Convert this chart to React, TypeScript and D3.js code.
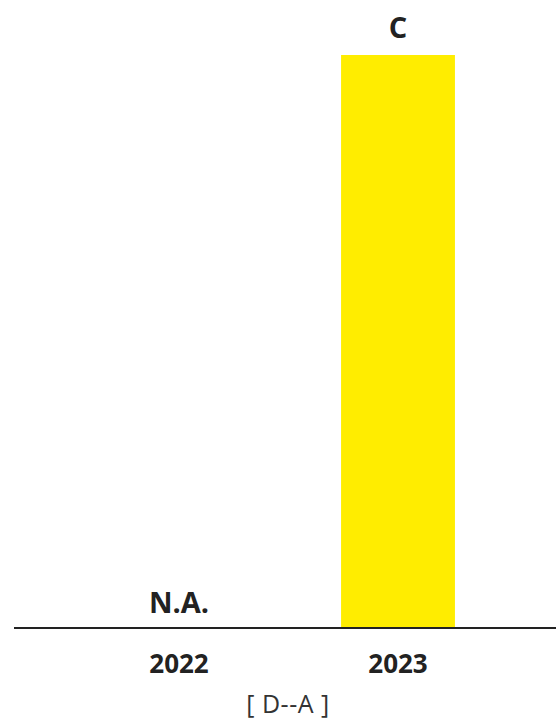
import React from "react";
import * as d3 from "d3";

const categories = ["2022", "2023"];
const values: (number | null)[] = [null, 100];
const valueLabels = ["N.A.", "C"];
const footnote = "[ D--A ]";

const W = 556;
const H = 721;

export default function App() {
  const x = d3.scaleBand<string>().domain(categories).range([69.5, 507.5]).paddingInner(0.48).paddingOuter(0.24);
  const y = d3.scaleLinear().domain([0, 100]).range([628, 55]);
  const font = "'Open Sans', sans-serif";
  return (
    <svg width={W} height={H} style={{ position: "absolute", left: 0, top: 0 }}>
      {categories.map((c, i) => {
        const v = values[i];
        const cx = (x(c) ?? 0) + x.bandwidth() / 2;
        return (
          <g key={c}>
            {v != null && (
              <rect x={x(c)} y={y(v)} width={x.bandwidth()} height={y(0) - y(v)} fill="#FFED00" />
            )}
            <text
              x={cx}
              y={v != null ? y(v) - 17 : y(0) - 15}
              textAnchor="middle"
              fontFamily={font}
              fontWeight={700}
              fontSize={29}
              fill="#222"
            >
              {valueLabels[i]}
            </text>
            <text x={cx} y={673} textAnchor="middle" fontFamily={font} fontWeight={700} fontSize={26} fill="#222">
              {c}
            </text>
          </g>
        );
      })}
      <line x1={14} x2={556} y1={y(0)} y2={y(0)} stroke="#222" strokeWidth={2} />
      <text x={288} y={713} textAnchor="middle" fontFamily={font} fontSize={25} fill="#333" letterSpacing={0.5}>
        {footnote}
      </text>
    </svg>
  );
}
